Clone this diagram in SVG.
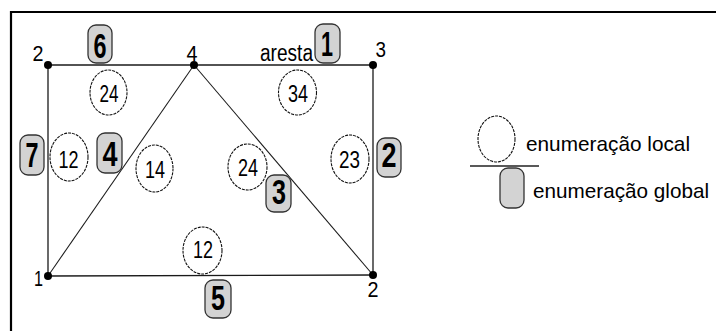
<svg xmlns="http://www.w3.org/2000/svg" width="716" height="331" viewBox="0 0 716 331">
<style>
.edge{stroke:#1a1a1a;stroke-width:1.3;fill:none}
.diag{stroke:#1a1a1a;stroke-width:1.05;fill:none}
.loc{fill:#fff;stroke:#111;stroke-width:1.1;stroke-dasharray:3 1}
.glob{fill:#d3d3d3;stroke:#333;stroke-width:1.3}
.dot{fill:#000}
.vl{font-family:"Liberation Sans",Arial,sans-serif;font-size:22px;fill:#000}
.lt{font-family:"Liberation Sans",Arial,sans-serif;font-size:24px;fill:#000;text-anchor:middle}
.gt{font-family:"Liberation Sans",Arial,sans-serif;font-size:35px;font-weight:bold;fill:#000;text-anchor:middle}
.tx{font-family:"Liberation Sans",Arial,sans-serif;font-size:23px;fill:#000}
.lg{font-family:"Liberation Sans",Arial,sans-serif;font-size:21px;fill:#000}
</style>
<rect width="716" height="331" fill="#fff"/>
<path d="M11 331 V12 H716" stroke="#000" stroke-width="2.2" fill="none"/>

<g id="connectors">
<line class="edge" x1="48" y1="65" x2="373" y2="65"/>
<line class="edge" x1="48" y1="276" x2="373" y2="275"/>
<line class="edge" x1="48" y1="65" x2="48" y2="276"/>
<line class="edge" x1="373" y1="65" x2="373" y2="275"/>
<line class="diag" x1="48" y1="276" x2="194" y2="65"/>
<line class="diag" x1="194" y1="65" x2="373" y2="275"/>
</g>

<g id="v-tl"><circle class="dot" cx="48" cy="65" r="4"/><text class="vl" x="32.5" y="61" textLength="11" lengthAdjust="spacingAndGlyphs">2</text></g>
<g id="v-top"><circle class="dot" cx="194" cy="65" r="4"/><text class="vl" x="186.5" y="61" textLength="11" lengthAdjust="spacingAndGlyphs">4</text></g>
<g id="v-tr"><circle class="dot" cx="373" cy="65" r="4"/><text class="vl" x="375.5" y="57" textLength="10.5" lengthAdjust="spacingAndGlyphs">3</text></g>
<g id="v-bl"><circle class="dot" cx="48" cy="276" r="4"/><text class="vl" x="34" y="286" textLength="9" lengthAdjust="spacingAndGlyphs">1</text></g>
<g id="v-br"><circle class="dot" cx="373" cy="275" r="4"/><text class="vl" x="367.5" y="297" textLength="11" lengthAdjust="spacingAndGlyphs">2</text></g>

<g id="lbl-aresta"><text class="tx" x="260" y="61" textLength="53" lengthAdjust="spacingAndGlyphs">aresta</text></g>

<g id="loc-24a"><ellipse class="loc" cx="108.5" cy="92.5" rx="18.5" ry="22.5"/><text class="lt" x="109" y="102" textLength="19" lengthAdjust="spacingAndGlyphs">24</text></g>
<g id="loc-34"><ellipse class="loc" cx="297.5" cy="92.5" rx="19" ry="22.5"/><text class="lt" x="298" y="102" textLength="20" lengthAdjust="spacingAndGlyphs">34</text></g>
<g id="loc-12a"><ellipse class="loc" cx="69" cy="157" rx="19" ry="24"/><text class="lt" x="68.5" y="168" textLength="20" lengthAdjust="spacingAndGlyphs">12</text></g>
<g id="loc-14"><ellipse class="loc" cx="154.5" cy="168.5" rx="18.5" ry="23.5"/><text class="lt" x="155" y="178" textLength="20" lengthAdjust="spacingAndGlyphs">14</text></g>
<g id="loc-24b"><ellipse class="loc" cx="247.5" cy="167" rx="19.5" ry="23"/><text class="lt" x="248" y="176" textLength="20" lengthAdjust="spacingAndGlyphs">24</text></g>
<g id="loc-23"><ellipse class="loc" cx="350" cy="159" rx="19" ry="24"/><text class="lt" x="349.5" y="168" textLength="21" lengthAdjust="spacingAndGlyphs">23</text></g>
<g id="loc-12b"><ellipse class="loc" cx="202.5" cy="250.5" rx="19.5" ry="23.5"/><text class="lt" x="203" y="258" textLength="20" lengthAdjust="spacingAndGlyphs">12</text></g>

<g id="glob-6"><rect class="glob" x="88" y="25" width="24" height="38" rx="8"/><text class="gt" x="100" y="58" textLength="13" lengthAdjust="spacingAndGlyphs">6</text></g>
<g id="glob-1"><rect class="glob" x="315" y="24" width="25" height="39" rx="8"/><text class="gt" x="327" y="56" textLength="12" lengthAdjust="spacingAndGlyphs">1</text></g>
<g id="glob-7"><rect class="glob" x="20" y="135" width="24" height="40" rx="8"/><text class="gt" x="32" y="167" textLength="13" lengthAdjust="spacingAndGlyphs">7</text></g>
<g id="glob-4"><rect class="glob" x="97" y="133" width="25" height="40" rx="8"/><text class="gt" x="110" y="166" textLength="15" lengthAdjust="spacingAndGlyphs">4</text></g>
<g id="glob-2"><rect class="glob" x="377" y="138" width="24" height="39" rx="8"/><text class="gt" x="389" y="167" textLength="15" lengthAdjust="spacingAndGlyphs">2</text></g>
<g id="glob-3"><rect class="glob" x="266" y="175" width="25" height="37" rx="8"/><text class="gt" x="279" y="204" textLength="14" lengthAdjust="spacingAndGlyphs">3</text></g>
<g id="glob-5"><rect class="glob" x="205" y="280" width="26" height="38" rx="8"/><text class="gt" x="218" y="310" textLength="14" lengthAdjust="spacingAndGlyphs">5</text></g>

<g id="legend">
<ellipse class="loc" cx="496.5" cy="139" rx="18.5" ry="23"/>
<line x1="470" y1="166" x2="539" y2="166" stroke="#222" stroke-width="1.3"/>
<rect class="glob" x="500" y="168" width="24" height="40" rx="8"/>
<text class="lg" x="526" y="151" textLength="164" lengthAdjust="spacingAndGlyphs">enumeração local</text>
<text class="lg" x="533" y="198" textLength="176" lengthAdjust="spacingAndGlyphs">enumeração global</text>
</g>
</svg>
